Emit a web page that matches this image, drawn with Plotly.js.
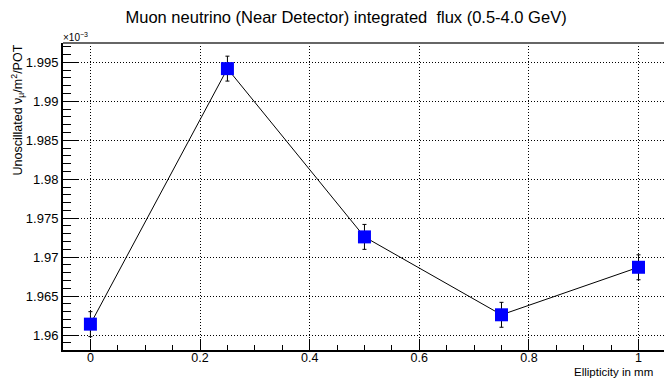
<!DOCTYPE html>
<html>
<head>
<meta charset="utf-8">
<script src="https://cdn.plot.ly/plotly-3.0.1.min.js"></script>
<style>html,body{margin:0;padding:0;background:#fff;}#chart{width:664px;height:379px;}</style>
</head>
<body>
<div id="chart"></div>
<script>
// Data (flux in units of 1e-3 nu/m^2/POT)
const ellipticity = [0, 0.25, 0.5, 0.75, 1];
const flux = [1.9614, 1.9942, 1.9726, 1.9626, 1.9687];
const fluxErr = [0.0016, 0.0016, 0.0016, 0.0016, 0.0016];

const titleText = "Muon neutrino (Near Detector) integrated  flux (0.5-4.0 GeV)";
const xTitleText = "Ellipticity in mm";
const yTitleText = "Unoscillated \u03bd<sub>\u03bc</sub>/m<sup>2</sup>/POT";
const exponentText = "\u00d710<sup>\u22123</sup>";

const FONT = "Liberation Sans, Arial, Helvetica, sans-serif";

const trace = {
  x: ellipticity,
  y: flux,
  type: "scatter",
  mode: "lines+markers",
  line: {color: "#000", width: 1},
  marker: {symbol: "square", size: 13, color: "#0000ff"},
  error_y: {type: "data", array: fluxErr, visible: true, color: "#000", thickness: 1, width: 2},
  hoverinfo: "none"
};

const layout = {
  width: 664, height: 379,
  margin: {l: 63, r: 0, t: 43, b: 29},
  paper_bgcolor: "#fff", plot_bgcolor: "#fff",
  showlegend: false,
  font: {family: FONT, color: "#000"},
  title: {text: titleText, font: {family: FONT, size: 16.5, color: "#000"}, xref: "paper", x: 0.471, xanchor: "center", y: 0.955, yanchor: "middle"},
  xaxis: {
    range: [-0.05, 1.0465],
    tick0: 0, dtick: 0.2,
    ticks: "inside", ticklen: 11, tickwidth: 1, tickcolor: "#000",
    minor: {dtick: 0.05, ticks: "inside", ticklen: 5, tickcolor: "#000", showgrid: false},
    showline: true, linecolor: "#000", linewidth: 2,
    showgrid: true, gridcolor: "#000", gridwidth: 1, griddash: "1px,2px",
    zeroline: false,
    ticklabelstandoff: -5,
    tickfont: {family: FONT, size: 12.5, color: "#000"},
    fixedrange: true
  },
  yaxis: {
    range: [1.95808, 1.99749],
    tick0: 1.96, dtick: 0.005,
    ticks: "inside", ticklen: 16, tickwidth: 1, tickcolor: "#000",
    minor: {dtick: 0.001, ticks: "inside", ticklen: 8, tickcolor: "#000", showgrid: false},
    showline: true, linecolor: "#000", linewidth: 2,
    showgrid: true, gridcolor: "#000", gridwidth: 1, griddash: "1px,2px",
    zeroline: false,
    tickfont: {family: FONT, size: 13, color: "#000"},
    fixedrange: true
  },
  shapes: [
    {type: "line", xref: "paper", yref: "paper", x0: 0, x1: 1, y0: 1, y1: 1, line: {color: "#666", width: 2}}
  ],
  annotations: [
    {text: yTitleText, xref: "paper", yref: "paper", x: 0, y: 1, xanchor: "center", yanchor: "top",
     xshift: -46, textangle: -90, showarrow: false, font: {family: FONT, size: 12.5, color: "#000"}},
    {text: xTitleText, xref: "paper", yref: "paper", x: 1, y: 0, xanchor: "left", yanchor: "middle",
     xshift: -91, yshift: -21.5, borderpad: 0, showarrow: false, font: {family: FONT, size: 11.5, color: "#000"}},
    {text: exponentText, xref: "paper", yref: "paper", x: 0, y: 1, xanchor: "left", yanchor: "bottom",
     xshift: -2, yshift: -2, showarrow: false, font: {family: FONT, size: 10, color: "#000"}}
  ]
};

Plotly.newPlot("chart", [trace], layout, {staticPlot: true, displayModeBar: false});
</script>
</body>
</html>
